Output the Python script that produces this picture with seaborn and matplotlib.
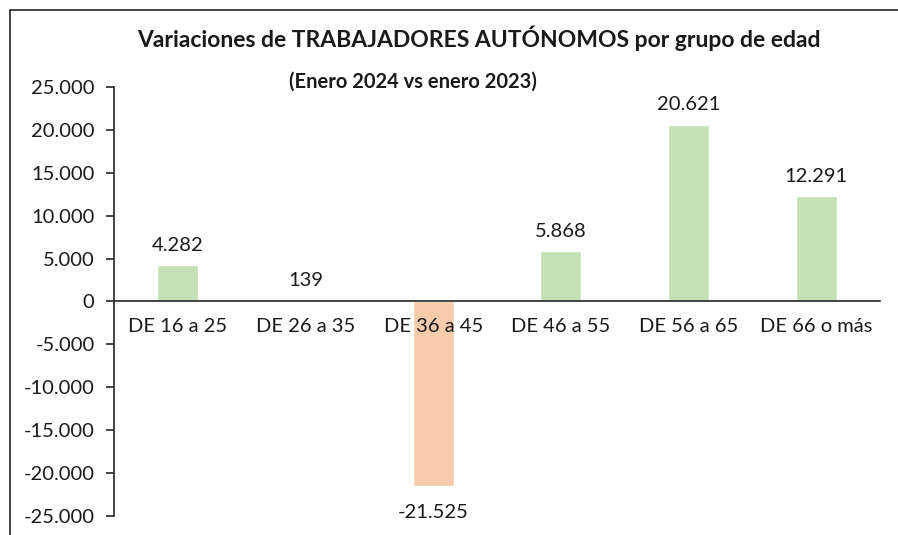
import numpy as np
import pandas as pd
import seaborn as sns
import matplotlib.pyplot as plt
from matplotlib.lines import Line2D
from matplotlib.ticker import FuncFormatter, MultipleLocator

grupos = ['DE 16 a 25', 'DE 26 a 35', 'DE 36 a 45', 'DE 46 a 55', 'DE 56 a 65', 'DE 66 o más']
variacion = [4282, 139, -21525, 5868, 20621, 12291]

titulo = 'Variaciones de TRABAJADORES AUTÓNOMOS por grupo de edad'
subtitulo = '(Enero 2024 vs enero 2023)'

verde = '#C5E0B4'
naranja = '#F8CBAD'

sns.set_theme(style='white')
plt.rcParams['font.family'] = ['Lato', 'DejaVu Sans']


def miles(v, pos=None):
    return f'{int(round(v)):,}'.replace(',', '.')


df = pd.DataFrame({'grupo': grupos, 'valor': variacion})
df['signo'] = np.where(df['valor'] >= 0, 'pos', 'neg')

fig = plt.figure(figsize=(8.98, 5.35), dpi=100)
ax = fig.add_axes([0.127, 0.0355, 0.853, 0.802])

sns.barplot(data=df, x='grupo', y='valor', hue='signo',
            palette={'pos': verde, 'neg': naranja}, dodge=False,
            width=0.32, legend=False, ax=ax, saturation=1)

ax.set_axisbelow(False)
ax.set_ylim(-25000, 25000)
ax.set_xlim(-0.5, len(grupos) - 0.5)
ax.yaxis.set_major_locator(MultipleLocator(5000))
ax.yaxis.set_major_formatter(FuncFormatter(miles))
ax.set_xlabel('')
ax.set_ylabel('')

for s in ['top', 'right']:
    ax.spines[s].set_visible(False)
ax.spines['left'].set_color('#262626')
ax.spines['left'].set_linewidth(1.2)
ax.spines['bottom'].set_position(('data', 0))
ax.spines['bottom'].set_color('#262626')
ax.spines['bottom'].set_linewidth(1.2)

ax.tick_params(axis='y', direction='out', length=6, width=1.2, color='#262626',
               left=True, pad=8, labelsize=14.5, labelcolor='#1a1a1a')
ax.tick_params(axis='x', length=0, pad=12, labelsize=14.5, labelcolor='#1a1a1a')

# etiquetas de datos
for i, v in enumerate(variacion):
    off = 8 if v >= 0 else -13
    ax.annotate(miles(v), (i, v), xytext=(0, off), textcoords='offset points',
                ha='center', va='bottom' if v >= 0 else 'top',
                fontsize=14.5, color='#1a1a1a')

fig.text(0.533, 0.929, titulo, ha='center', va='center', fontsize=16.5,
         fontweight='bold', color='#1a1a1a')
fig.text(0.46, 0.847, subtitulo, ha='center', va='center', fontsize=14.5,
         fontweight='bold', color='#1a1a1a')

# marco del gráfico (solo borde superior e izquierdo visibles)
x0, y0 = 10 / 898, 1 - 10 / 535
fig.add_artist(Line2D([x0, 1.0], [y0, y0], transform=fig.transFigure,
                      color='#262626', linewidth=1.2))
fig.add_artist(Line2D([x0, x0], [0.0, y0], transform=fig.transFigure,
                      color='#262626', linewidth=1.2))

fig.savefig('out.png', dpi=100)
